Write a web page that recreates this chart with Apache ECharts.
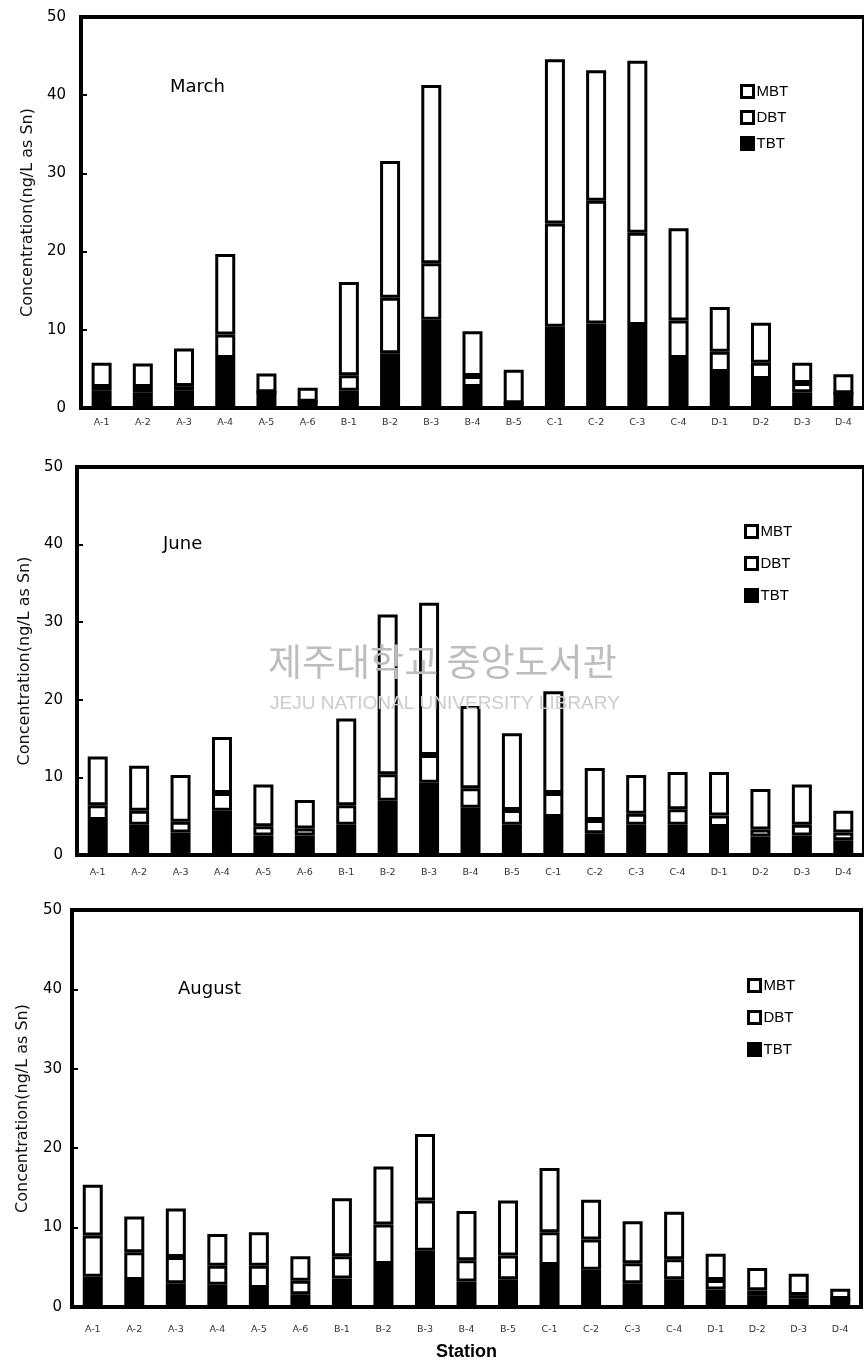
<!DOCTYPE html>
<html>
<head>
<meta charset="utf-8">
<script src="https://cdn.jsdelivr.net/npm/echarts@6/dist/echarts.min.js"></script>
<style>
html,body{margin:0;padding:0;background:#fff;}
#c{width:864px;height:1362px;}
</style>
</head>
<body>
<div id="c"></div>
<script>
// ---- data ----
const categories = ['A-1','A-2','A-3','A-4','A-5','A-6','B-1','B-2','B-3','B-4','B-5','C-1','C-2','C-3','C-4','D-1','D-2','D-3','D-4'];
const yTicks = [0, 10, 20, 30, 40, 50];
const months = ['March', 'June', 'August'];
const compounds = ['TBT', 'DBT', 'MBT'];

const marchTBT = [2.2,2.0,2.2,6.4,2.0,0.8,2.2,7.0,11.3,2.7,0.6,10.4,10.8,10.6,6.4,4.6,3.7,2.0,1.9];
const marchDBT = [0.5,0.7,0.6,3.0,0,0,2.0,7.1,7.2,1.4,0,13.2,15.7,11.8,4.8,2.6,2.1,1.2,0];
const marchMBT = [3.1,3.0,4.8,10.3,2.4,1.8,11.9,17.5,22.8,5.7,4.3,21.0,16.7,22.0,11.8,5.7,5.1,2.6,2.4];

const juneTBT = [4.5,3.9,2.9,5.7,2.5,2.5,3.9,7.0,9.3,6.1,3.9,4.9,2.8,3.9,3.9,3.6,2.4,2.5,1.9];
const juneDBT = [1.9,1.8,1.4,2.3,1.2,0.9,2.5,3.4,3.6,2.5,1.9,3.1,1.7,1.4,2.0,1.5,0.9,1.4,1.0];
const juneMBT = [6.3,5.8,6.0,7.2,5.4,3.7,11.2,20.6,19.6,10.6,9.9,13.1,6.7,5.0,4.8,5.6,5.2,5.2,2.8];

const augustTBT = [3.8,3.4,3.0,2.8,2.4,1.6,3.6,5.4,7.1,3.2,3.5,5.3,4.7,3.0,3.5,2.2,1.4,1.1,1.0];
const augustDBT = [5.2,3.5,3.3,2.4,2.8,1.7,2.8,5.0,6.3,2.7,3.0,4.1,3.8,2.5,2.5,1.2,0.7,0.4,0];
const augustMBT = [6.4,4.5,6.1,4.0,4.2,3.1,7.3,7.3,8.4,6.2,6.9,8.1,5.0,5.3,6.0,3.3,2.8,2.7,1.3];

const panelData = [
  [marchTBT, marchDBT, marchMBT],
  [juneTBT, juneDBT, juneMBT],
  [augustTBT, augustDBT, augustMBT]
];

// ---- layout (pixels) ----
const layout = [
  {left:81, right:0,  top:17,  height:391, yMargin:15, nameGap:36, xMargin:10, title:[170,88], legTop:84,  legLeft:740, legGap:11},
  {left:77, right:-3, top:467, height:388, yMargin:14, nameGap:36, xMargin:13, title:[163,545], legTop:524, legLeft:744, legGap:17},
  {left:72, right:3,  top:910, height:397, yMargin:10, nameGap:41, xMargin:18, title:[178,990], legTop:978, legLeft:747, legGap:17}
];

const FONT = 'DejaVu Sans, Liberation Sans, Arial, sans-serif';

const grids = [], xAxes = [], yAxes = [], series = [], legends = [], graphics = [];
layout.forEach((L, p) => {
  grids.push({left:L.left, right:L.right, top:L.top, height:L.height, show:true,
    borderColor:'#000', borderWidth:4, backgroundColor:'transparent'});
  xAxes.push({type:'category', gridIndex:p, data:categories,
    axisLine:{show:false}, axisTick:{show:false},
    axisLabel:{interval:0, fontSize:9.5, color:'#333', margin:L.xMargin, fontFamily:FONT},
    name: p === 2 ? 'Station' : '', nameLocation:'middle', nameGap:36,
    nameTextStyle:{fontSize:18, fontWeight:'bold', color:'#000', fontFamily:'Liberation Sans, Arial, sans-serif'}
  });
  yAxes.push({type:'value', gridIndex:p, min:yTicks[0], max:yTicks[yTicks.length-1], interval:10,
    axisLine:{show:false},
    axisTick:{show:true, inside:true, length:6, lineStyle:{color:'#000', width:2}},
    splitLine:{show:false},
    axisLabel:{fontSize:15, color:'#000', margin:L.yMargin, fontFamily:FONT},
    name:'Concentration(ng/L as Sn)', nameLocation:'middle', nameGap:L.nameGap, nameRotate:90,
    nameTextStyle:{fontSize:16, color:'#111', fontFamily:FONT}
  });
  compounds.forEach((c, k) => {
    series.push({
      name:c, type:'bar', stack:'s'+p, xAxisIndex:p, yAxisIndex:p,
      data:panelData[p][k], barWidth:20, silent:true,
      itemStyle:{color: c === 'TBT' ? '#000' : '#fff', borderColor:'#000', borderWidth:3}
    });
  });
  legends.push({orient:'vertical', left:L.legLeft, top:L.legTop, itemGap:L.legGap, padding:0,
    data:['MBT','DBT','TBT'], icon:'rect', itemWidth:12, itemHeight:12,
    itemStyle:{borderColor:'#000', borderWidth:3},
    selectedMode:false,
    textStyle:{fontSize:15, lineHeight:14, color:'#000', padding:[0,0,0,-2],
      fontFamily:'Liberation Sans Narrow, Liberation Sans, Arial, sans-serif'}
  });
  graphics.push({type:'text', left:L.title[0], top:L.title[1]-10, z:10,
    style:{text:months[p], fontSize:18, fill:'#000', fontFamily:FONT}});
});

// library watermark (faint, multiplied over the chart like the scan stamp)
graphics.push({type:'text', left:268, top:643, z:50,
  style:{text:'제주대학교 중앙도서관', fontSize:37, fill:'#bdbdbd', blend:'multiply', fontFamily:'Noto Sans CJK KR'}});
graphics.push({type:'text', left:270, top:694, z:50,
  style:{text:'JEJU NATIONAL UNIVERSITY LIBRARY', fontSize:19, fill:'#cccccc', blend:'multiply', fontFamily:'Liberation Sans, Arial, sans-serif'}});

const chart = echarts.init(document.getElementById('c'), null, {renderer:'canvas'});
chart.setOption({
  animation:false,
  backgroundColor:'#fff',
  grid:grids, xAxis:xAxes, yAxis:yAxes, series:series, legend:legends, graphic:graphics
});
</script>
</body>
</html>
